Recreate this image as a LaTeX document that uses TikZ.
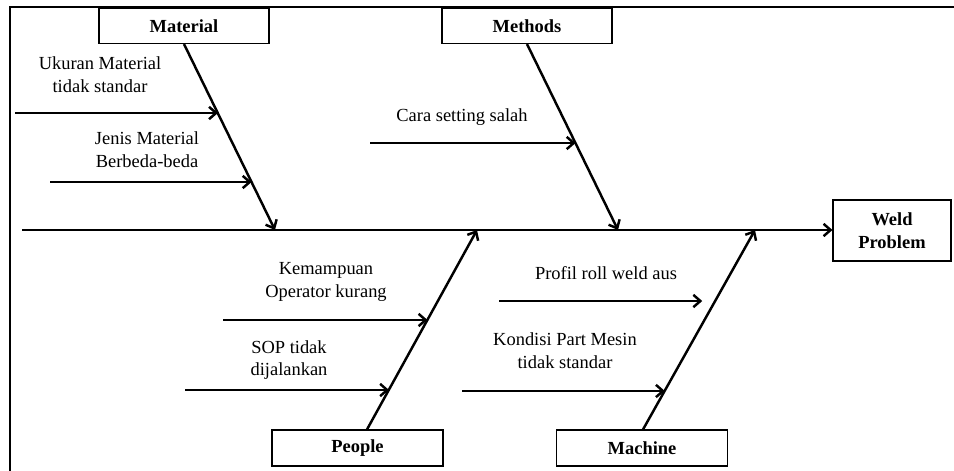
\documentclass[tikz,border=0pt]{standalone}
\usepackage{fontspec}
\setmainfont{Liberation Serif}
\usetikzlibrary{positioning,calc,arrows.meta}

\begin{document}
\begin{tikzpicture}[
    catbox/.style={draw, line width=0.6pt, minimum width=3.4cm, minimum height=0.7cm, font=\fontsize{10.5}{13}\selectfont\bfseries},
    cause/.style={align=center, font=\fontsize{10.5}{13}\selectfont},
    bone/.style={line width=1.4pt, -{Straight Barb[length=4pt,width=7pt]}}
]

\useasboundingbox (0,0) rectangle (19.08,9.4);
\begin{scope}
    \clip (0,0) rectangle (19.08,9.4);
    \draw[line width=0.8pt] (0.2,-1) rectangle (20,9.26);
\end{scope}

\node[catbox] (material) at (3.68,8.88) {Material};
\node[catbox] (methods) at (10.54,8.88) {Methods};
\node[catbox, minimum width=3.42cm, minimum height=0.72cm] (people) at (7.15,0.44) {People};
\node[catbox, minimum width=3.42cm, minimum height=0.72cm] (machine) at (12.84,0.44) {Machine};
\node[catbox, minimum width=2.36cm, minimum height=1.22cm, align=center] (weld) at (17.84,4.79) {Weld\\Problem};

\coordinate (tail) at (0.44,4.8);
\coordinate (mat) at (5.5,4.8);
\coordinate (met) at (12.36,4.8);
\coordinate (peo) at (9.54,4.8);
\coordinate (mac) at (15.1,4.8);
\coordinate (pstart) at ($(people.north)+(0.19,0)$);
\coordinate (mstart) at ($(machine.north)+(0.02,0)$);

\draw[bone] (tail) -- (weld.west |- tail);
\draw[bone] (material.south) -- (mat);
\draw[bone] (methods.south) -- (met);
\draw[bone] (pstart) -- (peo);
\draw[bone] (mstart) -- (mac);

\coordinate (c1) at ($(material.south)!0.373!(mat)$);
\coordinate (c2) at ($(material.south)!0.743!(mat)$);
\coordinate (c3) at ($(methods.south)!0.534!(met)$);
\coordinate (c4) at ($(pstart)!0.55!(peo)$);
\coordinate (c5) at ($(pstart)!0.2!(peo)$);
\coordinate (c6) at ($(mstart)!0.645!(mac)$);
\coordinate (c7) at ($(mstart)!0.195!(mac)$);

\coordinate (u0) at (0.3,7.14);
\coordinate (j0) at (1.0,5.76);
\coordinate (s0) at (7.4,6.54);
\coordinate (k0) at (4.46,3.0);
\coordinate (o0) at (3.7,1.6);
\coordinate (p0) at (9.98,3.38);
\coordinate (d0) at (9.24,1.58);

\draw[bone] (u0) -- (u0 -| c1);
\draw[bone] (j0) -- (j0 -| c2);
\draw[bone] (s0) -- (s0 -| c3);
\draw[bone] (k0) -- (k0 -| c4);
\draw[bone] (o0) -- (o0 -| c5);
\draw[bone] (p0) -- ($(p0 -| c6)+(-0.26,0)$);
\draw[bone] (d0) -- (d0 -| c7);

\node[cause] (ukuran) at (2.0,7.91) {Ukuran Material\\tidak standar};
\node[cause] (jenis) at (2.94,6.4) {Jenis Material\\Berbeda-beda};
\node[cause] (cara) at (9.24,7.06) {Cara setting salah};
\node[cause] (kemampuan) at (6.52,3.76) {Kemampuan\\Operator kurang};
\node[cause] (sop) at (5.78,2.2) {SOP tidak\\dijalankan};
\node[cause] (profil) at (12.12,3.94) {Profil roll weld aus};
\node[cause] (kondisi) at (11.3,2.38) {Kondisi Part Mesin\\tidak standar};

\end{tikzpicture}
\end{document}
